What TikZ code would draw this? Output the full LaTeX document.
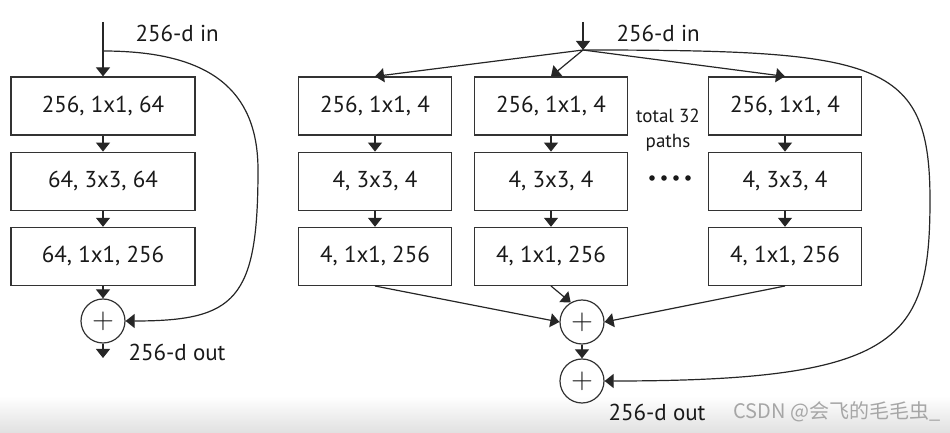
\documentclass[tikz,border=0pt]{standalone}
\usepackage{fontspec}
\setmainfont{PT Sans}
\newfontfamily\cjkfont{Noto Sans CJK SC}
\usetikzlibrary{positioning,arrows.meta}

\begin{document}
\begin{tikzpicture}[
  x=0.5pt, y=-0.5pt,
  font=\fontsize{11.5}{13}\selectfont,
  line width=0.6pt,
  arrow/.style={-{Triangle[width=7pt,length=4.5pt]}, draw=black!85},
  block/.style={draw=black!80, rectangle, minimum height=29pt, text=black!90, inner sep=2pt},
  wide/.style={block, minimum width=92pt},
  narrow/.style={block, minimum width=76.5pt},
  adder/.style={draw=black!80, circle, minimum size=22pt, inner sep=0pt, text=black!90,
                font=\fontsize{15}{15}\selectfont},
  lab/.style={anchor=west, inner sep=0pt, text=black!90}
]
\useasboundingbox (0,0) rectangle (950,433);
\shade[top color=white, bottom color=black!12] (0,396) rectangle (950,433);

% Plain bottleneck block
\node[wide] (l1) at (103,106) {256, 1x1, 64};
\node[wide, below=8pt of l1] (l2) {64, 3x3, 64};
\node[wide, below=8pt of l2] (l3) {64, 1x1, 256};
\node[adder] (sumL) at (103,321) {$+$};
\coordinate (inL) at (103,22);
\coordinate (tapL) at (103,51);
\coordinate (bendL) at (258,170);
\coordinate (outL) at (103,358);

% Grouped block, 32 paths
\node[narrow] (a1) at (375,106) {256, 1x1, 4};
\node[narrow, below=8pt of a1] (a2) {4, 3x3, 4};
\node[narrow, below=8pt of a2] (a3) {4, 1x1, 256};
\node[narrow] (b1) at (551,106) {256, 1x1, 4};
\node[narrow, below=8pt of b1] (b2) {4, 3x3, 4};
\node[narrow, below=8pt of b2] (b3) {4, 1x1, 256};
\node[narrow] (c1) at (785,106) {256, 1x1, 4};
\node[narrow, below=8pt of c1] (c2) {4, 3x3, 4};
\node[narrow, below=8pt of c2] (c3) {4, 1x1, 256};
\node[adder] (sum1) at (582,322) {$+$};
\node[adder] (sum2) at (582,381) {$+$};
\coordinate (inR) at (583,22);
\coordinate (hub) at (583,50);
\coordinate (bendR) at (930,200);

% Left connections
\draw[arrow] (inL) -- (l1.north);
\draw[arrow] (l1) -- (l2);
\draw[arrow] (l2) -- (l3);
\draw[arrow] (l3) -- (sumL);
\draw[arrow] (sumL) -- (outL);
\draw[arrow] (tapL) .. controls +(107,0) and +(0,-80) .. (bendL)
  .. controls +(0,130) and +(110,0) .. (sumL.east);

% Right connections
\draw[arrow] (inR) -- (hub);
\foreach \col in {a,b,c} {
  \draw[arrow] (hub) -- (\col1.north);
  \draw[arrow] (\col1) -- (\col2);
  \draw[arrow] (\col2) -- (\col3);
}
\draw[arrow] (a3.south) -- (sum1.west);
\draw[arrow] (b3.south) -- (sum1.120);
\draw[arrow] (c3.south) -- (sum1.east);
\draw[arrow] (sum1) -- (sum2);
\draw[arrow] (hub) .. controls +(297,0) and +(0,-140) .. (bendR)
  .. controls +(0,140) and +(296,0) .. (sum2.east);

% Labels
\node[lab] (inLlab) at (135,33) {256-d in};
\node[lab] (outLlab) at (128,352) {256-d out};
\node[lab] (inRlab) at (616,33) {256-d in};
\node[lab] (outRlab) at (608,412) {256-d out};
\node[font=\fontsize{9.5}{12.5}\selectfont, align=center, text=black!90] (paths) at (668,130) {total 32\\paths};
\foreach \x in {652,664,676,688} \fill[black!90] (\x,178) circle (1.4pt);
\node[lab, text=black!35, font=\cjkfont\fontsize{10}{12}\selectfont] (mark) at (733,412) {CSDN @会飞的毛毛虫\_};

\end{tikzpicture}
\end{document}
